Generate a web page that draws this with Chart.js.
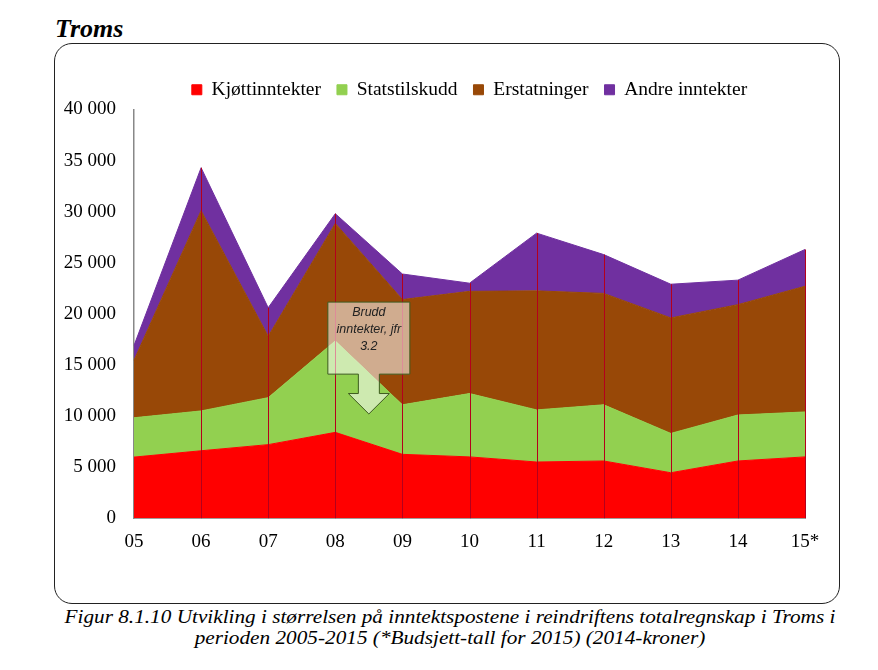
<!DOCTYPE html>
<html>
<head>
<meta charset="utf-8">
<script src="https://cdn.jsdelivr.net/npm/chart.js@4/dist/chart.umd.min.js"></script>
<style>
  html, body { margin: 0; padding: 0; background: #fff; }
  body { width: 878px; height: 670px; position: relative; overflow: hidden; font-family: "Liberation Serif", serif; }
  #title { position: absolute; left: 55px; top: 14px; font: italic bold 26px "Liberation Serif", serif; color: #000; }
  #frame { position: absolute; left: 54px; top: 43px; width: 784px; height: 559px; border: 1.5px solid #222; border-radius: 18px; }
  #wrap { position: absolute; left: 55px; top: 44px; width: 782px; height: 558px; }
  #caption { position: absolute; left: 11px; width: 878px; top: 607px; text-align: center; font: italic 18px "Liberation Serif", serif; line-height: 21px; color: #000; transform: scaleX(1.18); transform-origin: 439px 0; }
</style>
</head>
<body>
<div id="title">Troms</div>
<div id="frame"></div>
<div id="wrap"><canvas id="c" width="782" height="558"></canvas></div>
<div id="caption">Figur 8.1.10 Utvikling i størrelsen på inntektspostene i reindriftens totalregnskap i Troms i<br>perioden 2005-2015 (*Budsjett-tall for 2015) (2014-kroner)</div>
<script>
const categories = ['05', '06', '07', '08', '09', '10', '11', '12', '13', '14', '15*'];
const kjottinntekter = [5980, 6600, 7200, 8400, 6250, 6000, 5500, 5600, 4450, 5600, 6000];
const statstilskudd = [3850, 3900, 4600, 8950, 4850, 6200, 5100, 5500, 3850, 4500, 4400];
const erstatninger = [5630, 19600, 6000, 11500, 10300, 10000, 11650, 10900, 11300, 10800, 12300];
const andreInntekter = [1440, 4200, 2800, 950, 2500, 800, 5650, 3800, 3300, 2400, 3600];
const seriesNames = ['Kjøttinntekter', 'Statstilskudd', 'Erstatninger', 'Andre inntekter'];
const annotationLines = ['Brudd', 'inntekter, jfr', '3.2'];

const serif = '"Liberation Serif", "Times New Roman", serif';

function fmt(v) { return String(v).replace(/\B(?=(\d{3})+(?!\d))/g, ' '); }

const dropLines = {
  id: 'dropLines',
  afterDatasetsDraw(chart) {
    const ctx = chart.ctx;
    const top = chart.getDatasetMeta(chart.data.datasets.length - 1);
    const yb = chart.scales.y.getPixelForValue(0);
    ctx.save();
    ctx.strokeStyle = '#b4001c';
    ctx.lineWidth = 1;
    top.data.forEach((p, i) => {
      if (i === 0) return;
      ctx.beginPath();
      ctx.moveTo(Math.round(p.x) + 0.5, p.y);
      ctx.lineTo(Math.round(p.x) + 0.5, yb);
      ctx.stroke();
    });
    ctx.restore();
  }
};

const callout = {
  id: 'callout',
  afterDraw(chart) {
    const ctx = chart.ctx;
    const y = chart.scales.y;
    const m = chart.getDatasetMeta(0).data;
    const cx = (m[3].x + m[4].x) / 2;
    const top = y.getPixelForValue(21150);
    const boxBottom = y.getPixelForValue(14100);
    const headTop = y.getPixelForValue(12200);
    const tip = y.getPixelForValue(10200);
    const halfBox = 41, halfShaft = 10.5, halfHead = 20.5;
    ctx.save();
    ctx.beginPath();
    ctx.moveTo(cx - halfBox, top);
    ctx.lineTo(cx + halfBox, top);
    ctx.lineTo(cx + halfBox, boxBottom);
    ctx.lineTo(cx + halfShaft, boxBottom);
    ctx.lineTo(cx + halfShaft, headTop);
    ctx.lineTo(cx + halfHead, headTop);
    ctx.lineTo(cx, tip);
    ctx.lineTo(cx - halfHead, headTop);
    ctx.lineTo(cx - halfShaft, headTop);
    ctx.lineTo(cx - halfShaft, boxBottom);
    ctx.lineTo(cx - halfBox, boxBottom);
    ctx.closePath();
    ctx.fillStyle = 'rgba(255,255,255,0.55)';
    ctx.fill();
    ctx.strokeStyle = '#3c5a1e';
    ctx.lineWidth = 1;
    ctx.stroke();
    ctx.fillStyle = '#222';
    ctx.font = 'italic 12.5px "Liberation Sans", sans-serif';
    ctx.textAlign = 'center';
    ctx.textBaseline = 'middle';
    annotationLines.forEach((t, i) => ctx.fillText(t, cx, top + 10 + i * 17));
    ctx.restore();
  }
};

const colors = ['#ff0000', '#92d050', '#984807', '#7030a0'];
const values = [kjottinntekter, statstilskudd, erstatninger, andreInntekter];

new Chart(document.getElementById('c'), {
  type: 'line',
  data: {
    labels: categories,
    datasets: seriesNames.map((name, i) => ({
      label: name,
      data: values[i],
      backgroundColor: colors[i],
      borderColor: colors[i],
      borderWidth: 1,
      pointRadius: 0,
      tension: 0,
      fill: i === 0 ? 'origin' : '-1'
    }))
  },
  options: {
    responsive: false,
    animation: false,
    layout: { padding: { top: 20, right: 32, bottom: 45, left: 0 } },
    plugins: {
      legend: {
        display: true,
        position: 'top',
        fullSize: false,
        labels: { boxWidth: 10, boxHeight: 10, padding: 16, color: '#000', font: { family: serif, size: 19.5 } }
      },
      tooltip: { enabled: false },
      filler: { propagate: false }
    },
    scales: {
      x: {
        type: 'category',
        offset: false,
        grid: { display: false },
        border: { display: true, color: '#404040', width: 1.5 },
        ticks: { color: '#000', padding: 4, maxRotation: 0, autoSkip: false, font: { family: serif, size: 19 } }
      },
      y: {
        stacked: true,
        min: 0, max: 40000,
        grid: { display: false },
        border: { display: true, color: '#888', width: 1.5 },
        afterFit(s) { s.width = 79; },
        ticks: { stepSize: 5000, color: '#000', padding: 10, font: { family: serif, size: 19 }, callback: v => fmt(v) }
      }
    }
  },
  plugins: [dropLines, callout]
});
</script>
</body>
</html>
